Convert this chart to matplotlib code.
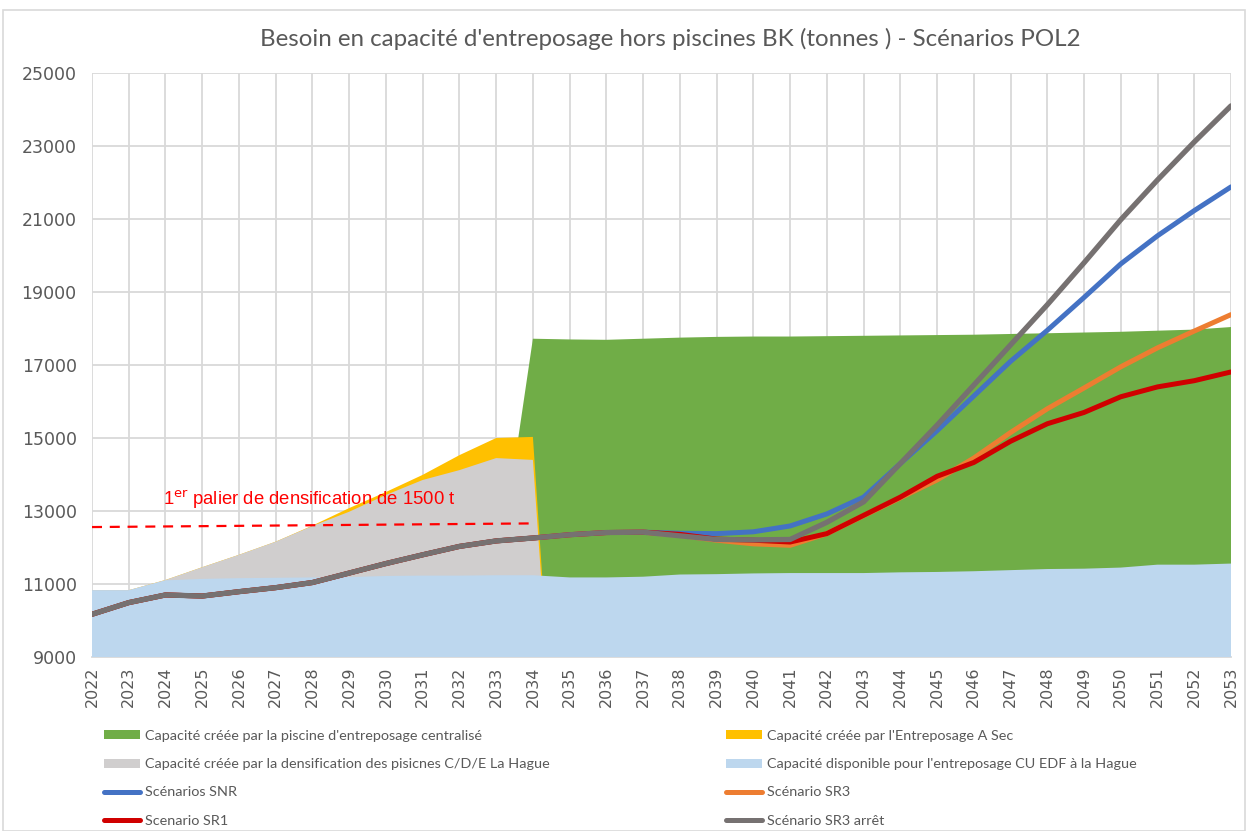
import matplotlib
matplotlib.use("Agg")
import matplotlib.pyplot as plt
from matplotlib.patches import Patch, Rectangle
from matplotlib.lines import Line2D

years = list(range(2022, 2054))

# aires (valeurs cumulées, en tonnes)
cap_dispo = [10830, 10830, 11100, 11140, 11160, 11170, 11180, 11190, 11220, 11230,
             11230, 11240, 11240, 11180, 11180, 11200, 11260, 11270, 11290, 11300,
             11300, 11300, 11320, 11330, 11350, 11380, 11410, 11420, 11450, 11530,
             11530, 11560]
cap_densif = [10830, 10830, 11110, 11460, 11800, 12160, 12590, 12980, 13440, 13850,
              14120, 14450, 14400, 0, 0, 0, 0, 0, 0, 0,
              0, 0, 0, 0, 0, 0, 0, 0, 0, 0,
              0, 0]
cap_sec = [10830, 10830, 11110, 11460, 11800, 12160, 12600, 13080, 13520, 13990,
           14530, 15000, 15030, 0, 0, 0, 0, 0, 0, 0,
           0, 0, 0, 0, 0, 0, 0, 0, 0, 0,
           0, 0]
cap_piscine = [0, 0, 0, 0, 0, 0, 0, 0, 0, 0,
               0, 10900, 17720, 17700, 17690, 17720, 17750, 17770, 17780, 17780,
               17790, 17800, 17810, 17820, 17830, 17850, 17870, 17890, 17910, 17940,
               17970, 18040]

# scénarios
snr = [10170, 10490, 10700, 10670, 10790, 10900, 11040, 11300, 11560, 11800,
       12030, 12180, 12260, 12350, 12410, 12420, 12390, 12380, 12430, 12590,
       12920, 13380, 14300, 15200, 16150, 17100, 17950, 18850, 19770, 20540,
       21230, 21880]
sr3 = [10170, 10490, 10700, 10670, 10790, 10900, 11040, 11300, 11560, 11800,
       12030, 12180, 12260, 12350, 12410, 12420, 12330, 12200, 12100, 12060,
       12380, 12870, 13360, 13850, 14450, 15150, 15800, 16370, 16950, 17470,
       17930, 18380]
sr1 = [10170, 10490, 10700, 10670, 10790, 10900, 11040, 11300, 11560, 11800,
       12030, 12180, 12260, 12350, 12410, 12420, 12360, 12230, 12200, 12150,
       12380, 12880, 13380, 13950, 14330, 14910, 15390, 15700, 16130, 16400,
       16570, 16810]
sr3_arret = [10170, 10490, 10700, 10670, 10790, 10900, 11040, 11300, 11560, 11800,
             12030, 12180, 12260, 12350, 12410, 12420, 12320, 12220, 12210, 12220,
             12690, 13250, 14300, 15350, 16450, 17550, 18650, 19800, 20980, 22070,
             23110, 24100]

palier_x = [2022, 2034]
palier_y = [12560, 12660]

txt_col = "#595959"
grid_col = "#D9D9D9"

fig = plt.figure(figsize=(12.48, 8.31), dpi=100)
fig.patches.append(Rectangle((3 / 1248, 0), 1242 / 1248, 821 / 831, transform=fig.transFigure,
                             fill=False, edgecolor=grid_col, linewidth=1.2))
ax = fig.add_axes([92 / 1248, 1 - 657 / 831, 1139 / 1248, 584 / 831])

ax.fill_between(years, 0, cap_piscine, facecolor="#70AD47", linewidth=0, zorder=2)
ax.fill_between(years, 0, cap_sec, facecolor="#FFC000", linewidth=0, zorder=3)
ax.fill_between(years, 0, cap_densif, facecolor="#D0CECE", linewidth=0, zorder=4)
ax.fill_between(years, 0, cap_dispo, facecolor="#BDD7EE", linewidth=0, zorder=5)

ax.plot(years, snr, color="#4472C4", linewidth=3.6, solid_capstyle="round", zorder=6)
ax.plot(years, sr3, color="#ED7D31", linewidth=3.6, solid_capstyle="round", zorder=7)
ax.plot(years, sr1, color="#D00000", linewidth=3.6, solid_capstyle="round", zorder=8)
ax.plot(years, sr3_arret, color="#767171", linewidth=3.8, solid_capstyle="round", zorder=9)

ax.plot(palier_x, palier_y, color="#FF0000", linewidth=1.6, dashes=(4.5, 3.5), zorder=10)
ax.text(2023.92, 13300, "1$^{\\mathrm{er}}$ palier de densification de 1500 t", color="#FF0000",
        fontsize=13.3, family=["Liberation Sans", "DejaVu Sans"], va="center", ha="left", zorder=10)

ax.set_xlim(2022, 2053)
ax.set_ylim(9000, 25000)
ax.set_xticks(years)
ax.set_xticklabels([str(y) for y in years], rotation=90, fontsize=11.5, color=txt_col)
ax.set_yticks(range(9000, 25001, 2000))
ax.set_yticklabels([str(v) for v in range(9000, 25001, 2000)], fontsize=12.5,
                   color=txt_col, family=["DejaVu Sans"])
ax.tick_params(axis="both", length=0)
ax.tick_params(axis="y", pad=11)
ax.tick_params(axis="x", pad=7)
ax.grid(True, color=grid_col, linewidth=1.3, zorder=0)
ax.set_axisbelow(True)
for s in ["top", "right", "left"]:
    ax.spines[s].set_visible(False)
ax.spines["bottom"].set_color(grid_col)
ax.spines["bottom"].set_linewidth(1.3)

fig.text(670 / 1248, 1 - 39 / 831,
         "Besoin en capacité d'entreposage hors piscines BK (tonnes ) - Scénarios POL2",
         ha="center", va="center", fontsize=17.4, color=txt_col,
         family=["Lato", "DejaVu Sans"])

h_left = [Patch(facecolor="#70AD47", label="Capacité créée par la piscine d'entreposage centralisé"),
          Patch(facecolor="#D0CECE", label="Capacité créée par la densification des pisicnes C/D/E La Hague"),
          Line2D([], [], color="#4472C4", linewidth=3.6, solid_capstyle="round", label="Scénarios SNR"),
          Line2D([], [], color="#D00000", linewidth=3.6, solid_capstyle="round", label="Scenario SR1")]
h_right = [Patch(facecolor="#FFC000", label="Capacité créée par l'Entreposage A Sec"),
           Patch(facecolor="#BDD7EE", label="Capacité disponible pour l'entreposage CU EDF à la Hague"),
           Line2D([], [], color="#ED7D31", linewidth=3.6, solid_capstyle="round", label="Scénario SR3"),
           Line2D([], [], color="#767171", linewidth=3.6, solid_capstyle="round", label="Scénario SR3 arrêt")]

for handles, x0 in [(h_left, 104), (h_right, 726)]:
    leg = fig.legend(handles=handles, loc="upper left", bbox_to_anchor=(x0 / 1248, 1 - 730 / 831),
                     frameon=False, borderpad=0, borderaxespad=0, handlelength=2.5,
                     handleheight=0.6, handletextpad=0.35, labelspacing=1.12,
                     prop={"family": ["Lato", "DejaVu Sans"], "size": 10.4})
    for t in leg.get_texts():
        t.set_color(txt_col)

fig.savefig("out.png", dpi=100)
